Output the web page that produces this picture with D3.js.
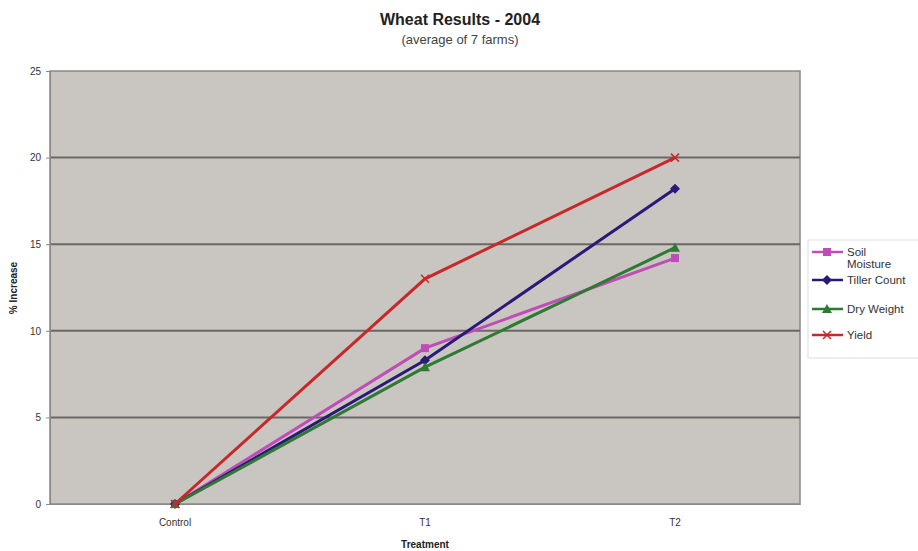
<!DOCTYPE html>
<html><head><meta charset="utf-8">
<script src="https://cdn.jsdelivr.net/npm/d3@7"></script>
<style>body{margin:0;background:#fff;} text{font-family:"Liberation Sans",Arial,sans-serif;}</style>
</head><body>
<svg id="c" width="918" height="551"></svg>
<script>
const categories = ["Control", "T1", "T2"];
const seriesNames = ["Soil Moisture", "Tiller Count", "Dry Weight", "Yield"];
const soilMoisture = [0, 9.0, 14.2];
const tillerCount = [0, 8.3, 18.2];
const dryWeight = [0, 7.9, 14.8];
const yieldVals = [0, 13.0, 20.0];
const yTicks = [0, 5, 10, 15, 20, 25];

const series = [
  {name: "Soil Moisture", label: ["Soil", "Moisture"], values: soilMoisture, color: "#c04cb8", marker: "square"},
  {name: "Tiller Count", label: ["Tiller Count"], values: tillerCount, color: "#2a1a78", marker: "diamond"},
  {name: "Dry Weight", label: ["Dry Weight"], values: dryWeight, color: "#2f7a32", marker: "triangle"},
  {name: "Yield", label: ["Yield"], values: yieldVals, color: "#c8282a", marker: "x"}
];

const svg = d3.select("#c");
const L = 50, R = 800, T = 71, B = 504;
const x = d3.scaleBand().domain(categories).range([L, R]);
const y = d3.scaleLinear().domain([0, 25]).range([B, T]);

svg.append("rect").attr("x", L).attr("y", T).attr("width", R - L).attr("height", B - T)
  .attr("fill", "#c9c5c1").attr("stroke", "#8a8886").attr("stroke-width", 1.5);

// gridlines
svg.append("g").selectAll("line").data(yTicks.filter(d => d > 0 && d < 25)).join("line")
  .attr("x1", L).attr("x2", R).attr("y1", d => y(d)).attr("y2", d => y(d))
  .attr("stroke", "#6a6866").attr("stroke-width", 2);

// y axis
const ya = svg.append("g").attr("transform", `translate(${L},0)`)
  .call(d3.axisLeft(y).tickValues(yTicks).tickSize(4).tickSizeOuter(0));
ya.select(".domain").attr("stroke", "#8a8886");
ya.selectAll(".tick line").attr("stroke", "#8a8886");
ya.selectAll(".tick text").attr("font-size", 10).attr("fill", "#333").attr("x", -9);

// x axis
const xa = svg.append("g").attr("transform", `translate(0,${B})`)
  .call(d3.axisBottom(x).tickSize(0).tickSizeOuter(0));
xa.select(".domain").attr("stroke", "#8a8886");
xa.selectAll(".tick text").attr("font-size", 10).attr("fill", "#333").attr("y", 22).attr("dy", null);

// titles
svg.append("text").attr("x", 460).attr("y", 25).attr("text-anchor", "middle")
  .attr("font-size", 16).attr("font-weight", "bold").attr("fill", "#222").text("Wheat Results - 2004");
svg.append("text").attr("x", 460).attr("y", 44).attr("text-anchor", "middle")
  .attr("font-size", 13).attr("fill", "#444").text("(average of 7 farms)");
svg.append("text").attr("x", 425).attr("y", 548).attr("text-anchor", "middle")
  .attr("font-size", 10).attr("font-weight", "bold").attr("fill", "#222").text("Treatment");
svg.append("text").attr("transform", `translate(17,${288}) rotate(-90)`).attr("text-anchor", "middle")
  .attr("font-size", 10).attr("font-weight", "bold").attr("fill", "#222").text("% Increase");

const line = d3.line().x((d, i) => x(categories[i]) + x.bandwidth() / 2).y(d => y(d));

function marker(g, type, cx, cy, color) {
  if (type === "square") g.append("rect").attr("x", cx - 4).attr("y", cy - 4).attr("width", 8).attr("height", 8).attr("fill", color);
  else if (type === "diamond") g.append("path").attr("d", `M${cx},${cy-5}L${cx+5},${cy}L${cx},${cy+5}L${cx-5},${cy}Z`).attr("fill", color);
  else if (type === "triangle") g.append("path").attr("d", `M${cx},${cy-5}L${cx+5},${cy+4}L${cx-5},${cy+4}Z`).attr("fill", color);
  else g.append("path").attr("d", `M${cx-4},${cy-4}L${cx+4},${cy+4}M${cx-4},${cy+4}L${cx+4},${cy-4}`).attr("stroke", color).attr("stroke-width", 1.5);
}

series.forEach(s => {
  const g = svg.append("g");
  g.append("path").datum(s.values).attr("d", line).attr("fill", "none")
    .attr("stroke", s.color).attr("stroke-width", 3);
  s.values.forEach((v, i) => marker(g, s.marker, x(categories[i]) + x.bandwidth() / 2, y(v), s.color));
});

// legend
svg.append("rect").attr("x", 808).attr("y", 240).attr("width", 120).attr("height", 118)
  .attr("fill", "#fff").attr("stroke", "#ddd").attr("stroke-width", 1);
const legY = [252, 280, 309, 335];
series.forEach((s, i) => {
  const g = svg.append("g");
  const ly = legY[i];
  g.append("line").attr("x1", 812).attr("x2", 843).attr("y1", ly).attr("y2", ly).attr("stroke", s.color).attr("stroke-width", 2.5);
  marker(g, s.marker, 827, ly, s.color);
  s.label.forEach((t, j) => g.append("text").attr("x", 847).attr("y", ly + 4 + j * 12)
    .attr("font-size", 11.5).attr("fill", "#333").text(t));
});
</script>
</body></html>
